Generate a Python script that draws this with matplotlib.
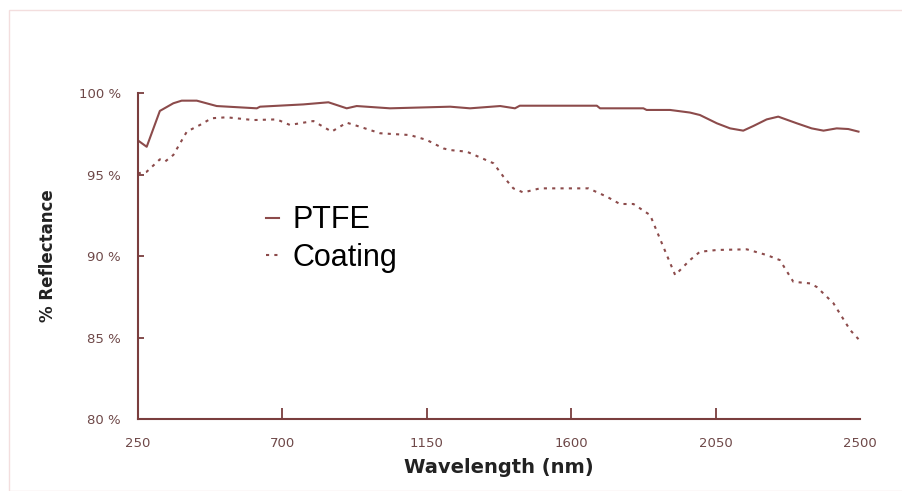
import matplotlib.pyplot as plt
from matplotlib.patches import Rectangle

# Wavelength (nm) and % reflectance
ptfe_wl = [250, 278, 319, 361, 387, 434, 496, 621, 631, 766, 844, 901, 932,
           1036, 1223, 1285, 1379, 1425, 1440, 1680, 1690, 1825, 1835, 1908,
           1970, 2001, 2054, 2095, 2136, 2168, 2209, 2245, 2303, 2349, 2386,
           2427, 2463, 2495]
ptfe_r = [97.1, 96.7, 98.9, 99.37, 99.53, 99.53, 99.2, 99.06, 99.16, 99.3,
          99.43, 99.06, 99.2, 99.06, 99.16, 99.06, 99.2, 99.06, 99.22, 99.22,
          99.06, 99.06, 98.96, 98.96, 98.8, 98.65, 98.14, 97.83, 97.69, 97.98,
          98.38, 98.55, 98.14, 97.83, 97.69, 97.83, 97.79, 97.63]

coat_wl = [250, 278, 319, 335, 361, 403, 444, 480, 527, 610, 683, 724, 797,
           854, 901, 942, 1005, 1098, 1150, 1202, 1223, 1275, 1358, 1389, 1420,
           1451, 1503, 1654, 1711, 1752, 1794, 1846, 1887, 1924, 1970, 2001,
           2054, 2147, 2209, 2250, 2292, 2344, 2365, 2417, 2469, 2495]
coat_r = [95.07, 95.17, 95.93, 95.79, 96.2, 97.63, 98.04, 98.45, 98.51, 98.34,
          98.38, 98.04, 98.28, 97.63, 98.18, 97.93, 97.53, 97.42, 97.12, 96.6,
          96.5, 96.4, 95.69, 94.87, 94.15, 93.9, 94.15, 94.15, 93.64, 93.19,
          93.19, 92.51, 90.57, 88.83, 89.75, 90.26, 90.37, 90.41, 90.06, 89.75,
          88.42, 88.32, 88.1, 87.1, 85.46, 84.9]

x_ticks = [250, 700, 1150, 1600, 2050, 2500]
y_ticks = [80, 85, 90, 95, 100]
y_tick_labels = ["80 %", "85 %", "90 %", "95 %", "100 %"]

line_c = "#8c4b4b"
axis_c = "#7a3e3e"
tick_c = "#6e4848"

fig = plt.figure(figsize=(9.03, 4.91), dpi=100)
fig.patches.append(Rectangle((0.010, 0.0), 0.99, 0.98, transform=fig.transFigure,
                             fill=False, edgecolor="#f3dede", linewidth=1.0))
ax = fig.add_axes([0.1525, 0.1466, 0.80, 0.664])

ax.plot(ptfe_wl, ptfe_r, color=line_c, linewidth=1.5, label="PTFE")
ax.plot(coat_wl, coat_r, color=line_c, linewidth=1.5,
        linestyle=(0, (1.5, 2.5)), label="Coating")

ax.set_xlim(250, 2500)
ax.set_ylim(80, 100)
ax.set_xticks(x_ticks)
ax.set_yticks(y_ticks)
ax.set_yticklabels(y_tick_labels)

for s in ["top", "right"]:
    ax.spines[s].set_visible(False)
for s in ["left", "bottom"]:
    ax.spines[s].set_color(axis_c)
    ax.spines[s].set_linewidth(1.5)

ax.tick_params(axis="both", direction="in", color=axis_c, width=1.3,
               labelcolor=tick_c, labelsize=9.5)
ax.tick_params(axis="x", length=8, pad=13)
ax.tick_params(axis="y", length=4, pad=12)

# no tick marks at the axis ends
xt = ax.xaxis.get_major_ticks()
for t in (xt[0], xt[-1]):
    t.tick1line.set_visible(False)
ax.yaxis.get_major_ticks()[0].tick1line.set_visible(False)

ax.set_xlabel("Wavelength (nm)", fontsize=14, fontweight="bold",
              family="DejaVu Sans", color="#222222", labelpad=6)
ax.set_ylabel("% Reflectance", fontsize=12, fontweight="bold",
              family="DejaVu Sans", color="#222222", labelpad=16)

leg = ax.legend(loc="upper left", bbox_to_anchor=(0.14, 0.74), frameon=False,
                handlelength=0.4, handletextpad=0.45, labelspacing=0.25,
                prop={"family": "Liberation Sans", "size": 22})

plt.savefig("out.png", dpi=100)
